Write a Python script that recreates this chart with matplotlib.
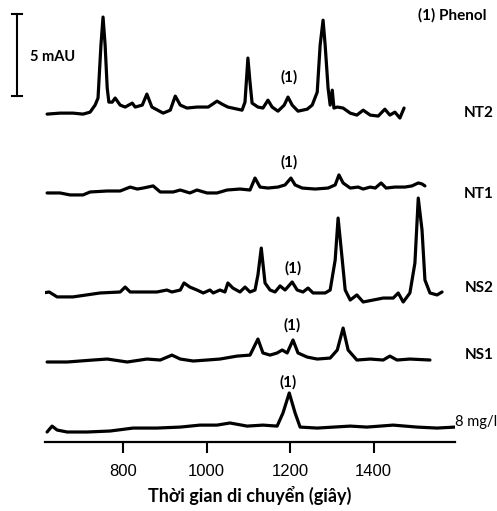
import matplotlib
matplotlib.use('Agg')
import matplotlib.pyplot as plt

# Electropherogram traces: time (s) and signal (mAU above trace baseline)
nt2_time = [618, 649, 680, 704, 721, 733, 740, 747, 752, 757, 762, 766, 774, 781, 793, 805,
            822, 829, 846, 857, 869, 896, 913, 925, 937, 953, 977, 1004, 1025, 1037, 1051,
            1085, 1092, 1099, 1104, 1109, 1123, 1135, 1147, 1157, 1171, 1186, 1195, 1205,
            1219, 1241, 1253, 1265, 1272, 1279, 1284, 1291, 1296, 1301, 1305, 1313, 1327,
            1344, 1360, 1375, 1392, 1411, 1427, 1439, 1451, 1463, 1473]
nt2_signal = [0, 0.06, 0.06, 0, 0.12, 0.55, 0.98, 4.21, 5.92, 4.21, 1.59, 0.73, 0.73, 0.98,
              0.55, 0.43, 0.67, 0.43, 0.55, 1.22, 0.43, 0.06, 0.24, 1.1, 0.55, 0.37, 0.43,
              0.43, 0.79, 0.61, 0.43, 0.24, 0.73, 3.42, 1.95, 0.67, 0.43, 0.37, 0.85, 0.43,
              0.18, 0.55, 1.04, 0.55, 0.18, 0.3, 0.55, 1.34, 4.21, 5.73, 4.21, 1.59, 0.55,
              1.46, 0.37, 0.43, 0.37, 0.06, -0.06, 0.24, -0.06, -0.12, 0.3, -0.06, 0.12,
              -0.24, 0.37]

nt1_time = [618, 649, 673, 704, 721, 762, 793, 817, 834, 848, 872, 889, 920, 937, 960, 977,
            1001, 1025, 1049, 1080, 1104, 1116, 1128, 1147, 1171, 1188, 1202, 1212, 1229,
            1260, 1291, 1308, 1317, 1327, 1344, 1363, 1375, 1392, 1404, 1418, 1430, 1451,
            1475, 1492, 1507, 1516, 1523]
nt1_signal = [-0.06, -0.06, -0.18, -0.18, 0, 0.06, 0.06, 0.3, 0.18, 0.24, 0.37, 0, 0, 0.12,
              -0.06, 0.12, -0.06, -0.06, 0.12, 0.18, 0.12, 0.85, 0.3, 0.24, 0.3, 0.43, 0.85,
              0.43, 0.24, 0.18, 0.24, 0.43, 1.04, 0.55, 0.24, 0.3, 0.18, 0.3, 0.24, 0.55,
              0.24, 0.3, 0.3, 0.37, 0.55, 0.49, 0.37]

ns2_time = [608, 623, 642, 680, 745, 793, 805, 817, 881, 905, 917, 937, 946, 960, 977, 992,
            1008, 1016, 1032, 1044, 1051, 1063, 1080, 1092, 1104, 1116, 1123, 1131, 1140,
            1152, 1164, 1176, 1188, 1205, 1217, 1231, 1243, 1255, 1284, 1296, 1308, 1315,
            1325, 1332, 1344, 1360, 1375, 1399, 1423, 1447, 1459, 1471, 1487, 1499, 1507,
            1516, 1523, 1535, 1552, 1564]
ns2_signal = [-0.06, 0, -0.3, -0.3, -0.06, 0, 0.3, 0, 0, 0.12, 0, 0.12, 0.55, 0.3, 0.12,
              -0.06, 0.12, -0.06, 0.12, 0, 0.55, 0.24, 0, 0.3, 0, 0.12, 1.04, 2.68, 0.55,
              0.12, 0, 0.37, 0.12, 0.61, 0.12, 0, 0.24, -0.06, -0.06, 0.12, 1.95, 4.51,
              1.95, 0.12, -0.49, -0.18, -0.61, -0.49, -0.37, -0.37, -0.06, -0.61, -0.06,
              1.77, 5.73, 3.78, 0.73, -0.06, -0.18, 0]

ns1_time = [618, 666, 728, 762, 810, 857, 889, 917, 937, 968, 1001, 1032, 1073, 1104, 1123,
            1135, 1152, 1169, 1181, 1193, 1207, 1219, 1241, 1265, 1296, 1313, 1327, 1339,
            1360, 1392, 1423, 1439, 1456, 1487, 1535]
ns1_signal = [-0.18, -0.18, -0.06, 0, -0.18, 0, -0.06, 0.24, 0, -0.12, -0.06, 0, 0.18, 0.24,
              1.22, 0.37, 0.24, 0.37, 0.55, 0.37, 1.16, 0.37, 0.12, 0, 0.06, 0.55, 1.89,
              0.55, -0.06, 0, -0.06, 0.18, -0.06, 0, -0.06]

std_time = [618, 630, 642, 666, 714, 769, 824, 881, 937, 984, 1025, 1056, 1097, 1135, 1169,
            1183, 1198, 1212, 1224, 1265, 1344, 1384, 1447, 1504, 1552, 1595]
std_signal = [-0.12, 0.24, 0, -0.12, -0.12, -0.06, 0.12, 0.12, 0.18, 0.3, 0.3, 0.43, 0.24,
              0.3, 0.24, 1.04, 2.26, 1.04, 0.18, 0.12, 0.24, 0.18, 0.3, 0.18, 0.12, 0.18]

sample_names = ['NT2', 'NT1', 'NS2', 'NS1', '8 mg/l']
xticks = [800, 1000, 1200, 1400]

# vertical stacking of the traces (mAU)
offsets = [20.0, 15.25, 9.15, 5.06, 0.73]
traces = [(nt2_time, nt2_signal), (nt1_time, nt1_signal), (ns2_time, ns2_signal),
          (ns1_time, ns1_signal), (std_time, std_signal)]

W, H = 497, 511
fig = plt.figure(figsize=(W / 100, H / 100), dpi=100)
ax = fig.add_axes([45 / W, 1 - 442 / H, 410 / W, 442 / H])

for (t, s), off in zip(traces, offsets):
    ax.plot(t, [v + off for v in s], color='black', lw=2.3,
            solid_joinstyle='round', solid_capstyle='round')

ax.set_xlim(613, 1595)
ax.set_ylim(0, 26.96)

for side in ['left', 'right', 'top']:
    ax.spines[side].set_visible(False)
ax.spines['bottom'].set_linewidth(1.6)
ax.set_yticks([])
ax.set_xticks(xticks)
ax.tick_params(axis='x', direction='out', length=8, width=1.5, pad=8, labelsize=12)
for lab in ax.get_xticklabels():
    lab.set_fontfamily('Liberation Sans')

ax.set_xlabel('Thời gian di chuyển (giây)', fontsize=13, fontweight='bold',
              family=['Lato', 'Noto Sans'], labelpad=5)

bold = dict(fontweight='bold', family=['Lato', 'DejaVu Sans'], clip_on=False)

# trace names on the right
name_y = [20.07, 15.13, 9.39, 5.31]
for name, y in zip(sample_names[:4], name_y):
    ax.text(1652, y, name, ha='center', va='center', fontsize=11, **bold)
ax.text(1595, 1.22, sample_names[4], ha='left', va='center', fontsize=10.5,
        family='Lato', clip_on=False)

# phenol peak markers
peak_y = [22.27, 17.08, 10.61, 7.14, 3.66]
peak_x = [1197, 1198, 1208, 1204, 1196]
for x, y in zip(peak_x, peak_y):
    ax.text(x, y, '(1)', ha='center', va='center', fontsize=11, **bold)

ax.text(1588, 26.05, '(1) Phenol', ha='center', va='center', fontsize=11, **bold)

# 5 mAU scale bar
ax.plot([546, 546], [21.1, 26.1], color='black', lw=1.5, clip_on=False)
ax.plot([534, 558], [21.1, 21.1], color='black', lw=1.5, clip_on=False)
ax.plot([534, 558], [26.1, 26.1], color='black', lw=1.5, clip_on=False)
ax.text(578, 23.5, '5 mAU', ha='left', va='center', fontsize=10.5, fontweight='bold',
        family='Lato', clip_on=False)

fig.savefig('out.png', dpi=100)
